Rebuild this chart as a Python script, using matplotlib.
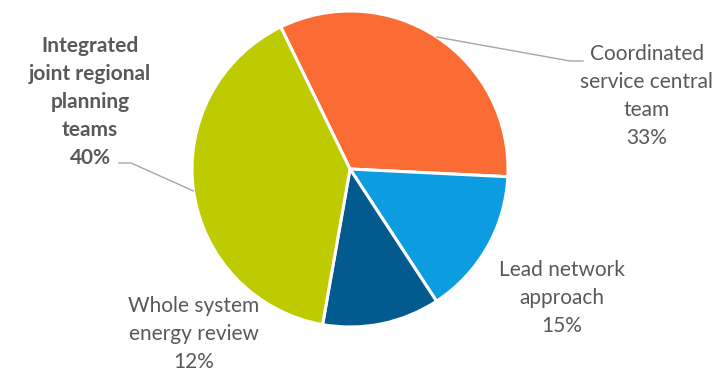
import numpy as np
import matplotlib.pyplot as plt

# share of approaches, clockwise from the top
labels = ["Coordinated\nservice central\nteam", "Lead network\napproach",
          "Whole system\nenergy review", "Integrated\njoint regional\nplanning\nteams"]
shares = [33, 15, 12, 40]
colors = ["#FA6C33", "#0C9DE0", "#035A8E", "#BDCB00"]

W, H = 727, 371
cx, cy, r = 350, 169, 158

fig = plt.figure(figsize=(W / 100, H / 100), dpi=100)
ax = fig.add_axes([(cx - r) / W, (H - cy - r) / H, 2 * r / W, 2 * r / H])

wedges, _ = ax.pie(shares, colors=colors, startangle=116, counterclock=False,
                   wedgeprops=dict(edgecolor="white", linewidth=2.2))
ax.set_xlim(-1, 1)
ax.set_ylim(-1, 1)
ax.set_aspect("equal")
ax.axis("off")


def px(x, y):
    return (x - cx) / r, (cy - y) / r


# label centres (pixels) and leader line bends
label_pos = [(647, 96), (562, 298), (194, 334), (90, 102)]
leaders = {0: [(570, 61), (583, 61)], 3: [(131, 163), (119, 163)]}
txt = "#595959"

for i, (w, lab, v) in enumerate(zip(wedges, labels, shares)):
    tx, ty = px(*label_pos[i])
    bold = i == 3
    ax.text(tx, ty, f"{lab}\n{v}%", ha="center", va="center", color=txt,
            fontsize=15, family="Lato", linespacing=1.5,
            fontweight="bold" if bold else "normal", clip_on=False)
    if i in leaders:
        mid = np.deg2rad((w.theta1 + w.theta2) / 2)
        pts = [(np.cos(mid), np.sin(mid))] + [px(*p) for p in leaders[i]]
        xs, ys = zip(*pts)
        ax.plot(xs, ys, color="#A6A6A6", lw=1, clip_on=False)

fig.savefig("out.png", dpi=100)
